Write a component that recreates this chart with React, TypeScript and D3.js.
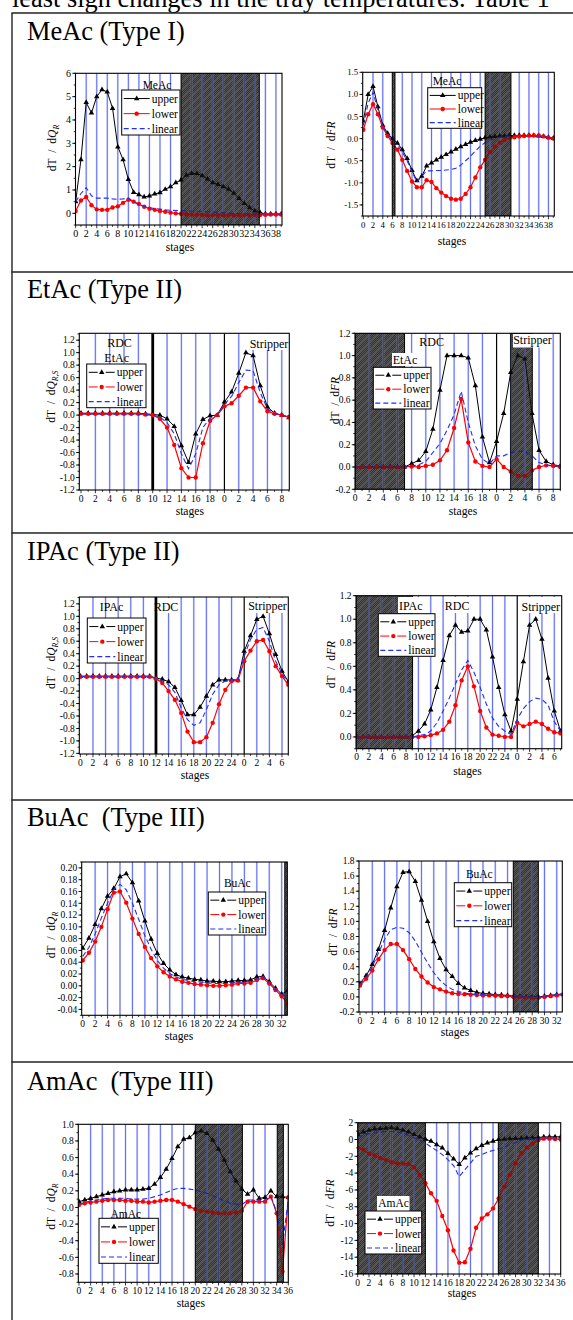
import React from 'react';
import * as d3 from 'd3';

const FONT = '"Liberation Serif", "Times New Roman", Times, serif';

// ---------- tick labels of the stage axes ----------
const meacStageLabels = ['0', '2', '4', '6', '8', '10', '12', '14', '16', '18', '20', '22', '24', '26', '28', '30', '32', '34', '36', '38'];
const etacStageLabels = ['0', '2', '4', '6', '8', '10', '12', '14', '16', '18', '0', '2', '4', '6', '8'];
const ipacStageLabels = ['0', '2', '4', '6', '8', '10', '12', '14', '16', '18', '20', '22', '24', '0', '2', '4', '6'];
const buacStageLabels = ['0', '2', '4', '6', '8', '10', '12', '14', '16', '18', '20', '22', '24', '26', '28', '30', '32'];
const amacStageLabels = ['0', '2', '4', '6', '8', '10', '12', '14', '16', '18', '20', '22', '24', '26', '28', '30', '32', '34', '36'];

// ---------- y ticks ----------
const meacQTicks = [0, 1, 2, 3, 4, 5, 6];
const meacFTicks = [-1.5, -1.0, -0.5, 0.0, 0.5, 1.0, 1.5];
const etacQTicks = [-1.2, -1.0, -0.8, -0.6, -0.4, -0.2, 0.0, 0.2, 0.4, 0.6, 0.8, 1.0, 1.2];
const etacFTicks = [-0.2, 0.0, 0.2, 0.4, 0.6, 0.8, 1.0, 1.2];
const ipacQTicks = [-1.2, -1.0, -0.8, -0.6, -0.4, -0.2, 0.0, 0.2, 0.4, 0.6, 0.8, 1.0, 1.2];
const ipacFTicks = [0.0, 0.2, 0.4, 0.6, 0.8, 1.0, 1.2];
const buacQTicks = [-0.04, -0.02, 0.0, 0.02, 0.04, 0.06, 0.08, 0.1, 0.12, 0.14, 0.16, 0.18, 0.2];
const buacFTicks = [-0.2, 0.0, 0.2, 0.4, 0.6, 0.8, 1.0, 1.2, 1.4, 1.6, 1.8];
const amacQTicks = [-0.8, -0.6, -0.4, -0.2, 0.0, 0.2, 0.4, 0.6, 0.8, 1.0];
const amacFTicks = [-16, -14, -12, -10, -8, -6, -4, -2, 0, 2];

// ---------- MeAc ----------
const meacQUpper = [0.5, 2.3, 4.75, 4.3, 5.0, 5.3, 5.2, 4.5, 2.85, 2.3, 1.45, 0.9, 0.8, 0.7, 0.75, 0.83, 0.89, 1.03, 1.14, 1.31,
  1.43, 1.64, 1.71, 1.71, 1.61, 1.47, 1.31, 1.24, 1.14, 1.04, 0.86, 0.64, 0.43, 0.24, 0.1, 0.03, -0.02, -0.03, -0.03, -0.03];
const meacQLower = [0.1, 0.55, 0.7, 0.35, 0.17, 0.15, 0.15, 0.25, 0.3, 0.45, 0.58, 0.5, 0.4, 0.28, 0.2, 0.15, 0.1, 0.07, 0.03, 0.0,
  -0.02, -0.04, -0.05, -0.06, -0.07, -0.08, -0.08, -0.08, -0.08, -0.08, -0.08, -0.08, -0.08, -0.08, -0.07, -0.07, -0.06, -0.05, -0.05, -0.05];
const meacQLinear = [0.5, 0.85, 1.1, 0.75, 0.65, 0.65, 0.65, 0.62, 0.6, 0.62, 0.65, 0.5, 0.35, 0.3, 0.25, 0.2, 0.18, 0.15, 0.13, 0.12,
  0.12, 0.11, 0.1, 0.09, 0.08, 0.07, 0.05, 0.04, 0.03, 0.01, 0.0, -0.01, -0.02, -0.03, -0.03, -0.03, -0.03, -0.03, -0.03, -0.03];
const meacFUpper = [0.4, 1.0, 1.18, 0.72, 0.3, 0.12, 0.0, -0.1, -0.25, -0.45, -0.72, -0.95, -0.85, -0.62, -0.55, -0.48, -0.42, -0.36, -0.3, -0.24,
  -0.18, -0.13, -0.08, -0.04, -0.01, 0.02, 0.04, 0.05, 0.06, 0.06, 0.07, 0.07, 0.07, 0.07, 0.07, 0.07, 0.06, 0.05, 0.03, 0.01];
const meacFLower = [0.2, 0.55, 0.78, 0.55, 0.25, 0.06, -0.1, -0.25, -0.48, -0.73, -0.97, -1.1, -1.1, -0.94, -0.98, -1.12, -1.22, -1.3, -1.36, -1.38,
  -1.36, -1.25, -1.1, -0.88, -0.65, -0.48, -0.3, -0.18, -0.09, -0.03, 0.01, 0.03, 0.05, 0.06, 0.07, 0.07, 0.07, 0.05, 0.02, 0.0];
const meacFLinear = [0.3, 0.8, 1.05, 0.65, 0.28, 0.1, -0.05, -0.15, -0.3, -0.5, -0.75, -0.98, -0.85, -0.73, -0.73, -0.72, -0.72, -0.71, -0.7, -0.67,
  -0.6, -0.5, -0.4, -0.28, -0.17, -0.09, -0.03, 0.0, 0.03, 0.05, 0.06, 0.07, 0.07, 0.07, 0.07, 0.07, 0.06, 0.05, 0.03, 0.02];

// ---------- EtAc ----------
const etacQUpper = [0.03, 0.03, 0.03, 0.03, 0.03, 0.03, 0.03, 0.03, 0.03, 0.02, 0.01, 0.0, -0.06, -0.18, -0.49,
  -0.76, -0.3, -0.07, -0.01, 0.0, 0.21, 0.37, 0.67, 1.0, 0.95, 0.47, 0.13, 0.03, 0.0, -0.04];
const etacQLower = [0.02, 0.02, 0.02, 0.02, 0.02, 0.02, 0.02, 0.02, 0.02, 0.01, 0.0, -0.06, -0.2, -0.48, -0.85,
  -1.0, -1.0, -0.45, -0.09, 0.0, 0.14, 0.19, 0.31, 0.44, 0.44, 0.22, 0.06, 0.02, 0.0, -0.03];
const etacQLinear = [0.02, 0.02, 0.02, 0.02, 0.02, 0.02, 0.02, 0.02, 0.02, 0.01, 0.0, -0.03, -0.12, -0.3, -0.62,
  -0.86, -0.62, -0.2, -0.05, 0.0, 0.17, 0.3, 0.52, 0.72, 0.71, 0.36, 0.1, 0.02, 0.0, -0.03];
const etacFUpper = [0, 0, 0, 0, 0, 0, 0, 0, 0.03, 0.06, 0.14, 0.34, 0.69, 1.0, 1.0,
  1.0, 0.98, 0.73, 0.27, 0.04, 0.23, 0.48, 0.85, 1.0, 0.97, 0.48, 0.15, 0.05, 0.02, 0.01];
const etacFLower = [0, 0, 0, 0, 0, 0, 0, 0, 0.005, 0.0, 0.01, 0.02, 0.06, 0.15, 0.35,
  0.61, 0.22, 0.05, 0.01, 0.0, 0.07, 0.0, -0.04, -0.08, -0.08, -0.03, 0.0, 0.015, 0.01, 0.0];
const etacFLinear = [0, 0, 0, 0, 0, 0, 0, 0, 0.01, 0.02, 0.05, 0.13, 0.21, 0.33, 0.47,
  0.68, 0.4, 0.19, 0.07, 0.03, 0.1, 0.1, 0.13, 0.14, 0.14, 0.1, 0.04, 0.02, 0.01, 0.01];

// ---------- IPAc ----------
const ipacQUpper = [0.04, 0.04, 0.04, 0.04, 0.04, 0.04, 0.04, 0.04, 0.04, 0.04, 0.04, 0.04, 0.01, -0.01, -0.05, -0.14, -0.35,
  -0.58, -0.58, -0.46, -0.28, -0.1, -0.02, -0.02, -0.02, -0.02, 0.44, 0.69, 0.95, 1.0, 0.72, 0.39, 0.12, -0.05];
const ipacQLower = [0.03, 0.03, 0.03, 0.03, 0.03, 0.03, 0.03, 0.03, 0.03, 0.03, 0.03, 0.03, 0.0, -0.07, -0.2, -0.34, -0.55,
  -0.85, -1.02, -1.02, -0.94, -0.71, -0.41, -0.18, -0.04, -0.03, 0.28, 0.45, 0.6, 0.62, 0.44, 0.2, 0.04, -0.1];
const ipacQLinear = [0.03, 0.03, 0.03, 0.03, 0.03, 0.03, 0.03, 0.03, 0.03, 0.03, 0.03, 0.03, 0.01, -0.03, -0.1, -0.22, -0.47,
  -0.66, -0.75, -0.71, -0.5, -0.25, -0.1, -0.04, -0.02, -0.02, 0.36, 0.63, 0.79, 0.82, 0.6, 0.28, 0.08, -0.07];
const ipacFUpper = [0, 0, 0, 0, 0, 0, 0, 0, 0, 0.01, 0.05, 0.11, 0.23, 0.42, 0.65, 0.86, 0.95,
  0.89, 0.9, 1.0, 1.0, 0.91, 0.68, 0.42, 0.19, 0.05, 0.32, 0.64, 0.95, 1.0, 0.83, 0.5, 0.22, 0.05];
const ipacFLower = [0, 0, 0, 0, 0, 0, 0, 0, 0, 0, 0.0, 0.005, 0.015, 0.03, 0.06, 0.13, 0.27,
  0.48, 0.6, 0.43, 0.22, 0.08, 0.02, 0.01, 0.0, 0.0, 0.12, 0.09, 0.11, 0.13, 0.11, 0.07, 0.04, 0.03];
const ipacFLinear = [0, 0, 0, 0, 0, 0, 0, 0, 0, 0, 0.01, 0.02, 0.05, 0.12, 0.22, 0.33, 0.45,
  0.57, 0.65, 0.55, 0.42, 0.28, 0.16, 0.09, 0.05, 0.02, 0.15, 0.24, 0.3, 0.33, 0.32, 0.27, 0.13, 0.05];

// ---------- BuAc ----------
const buacQUpper = [0.064, 0.081, 0.104, 0.131, 0.152, 0.165, 0.185, 0.19, 0.175, 0.144, 0.11, 0.079, 0.055, 0.038, 0.027, 0.019, 0.015,
  0.013, 0.011, 0.01, 0.008, 0.008, 0.007, 0.007, 0.008, 0.009, 0.009, 0.01, 0.015, 0.016, 0.007, -0.004, -0.014, -0.008];
const buacQLower = [0.043, 0.056, 0.075, 0.1, 0.13, 0.158, 0.16, 0.141, 0.114, 0.088, 0.066, 0.047, 0.033, 0.023, 0.016, 0.011, 0.007,
  0.005, 0.003, 0.002, 0.001, 0.0, 0.0, 0.001, 0.002, 0.004, 0.004, 0.005, 0.01, 0.013, 0.004, -0.007, -0.018, -0.03];
const buacQLinear = [0.05, 0.065, 0.088, 0.115, 0.14, 0.163, 0.172, 0.163, 0.14, 0.113, 0.085, 0.062, 0.043, 0.03, 0.021, 0.015, 0.011,
  0.009, 0.007, 0.006, 0.005, 0.004, 0.004, 0.004, 0.005, 0.006, 0.006, 0.008, 0.012, 0.015, 0.006, -0.006, -0.015, -0.012];
const buacFUpper = [0.18, 0.28, 0.43, 0.63, 0.88, 1.18, 1.46, 1.65, 1.66, 1.53, 1.28, 1.0, 0.73, 0.51, 0.36, 0.27, 0.18,
  0.12, 0.085, 0.06, 0.045, 0.04, 0.03, 0.025, 0.02, 0.01, 0.01, 0.0, 0.0, 0.0, 0.01, 0.02, 0.03, 0.04];
const buacFLower = [0.15, 0.24, 0.35, 0.5, 0.62, 0.7, 0.7, 0.62, 0.5, 0.37, 0.27, 0.19, 0.13, 0.1, 0.07, 0.05, 0.04,
  0.035, 0.03, 0.025, 0.02, 0.02, 0.015, 0.01, 0.01, 0.0, 0.0, -0.01, -0.01, -0.01, 0.0, 0.01, 0.02, 0.03];
const buacFLinear = [0.17, 0.26, 0.4, 0.58, 0.76, 0.89, 0.92, 0.91, 0.85, 0.74, 0.59, 0.45, 0.32, 0.22, 0.15, 0.1, 0.07,
  0.05, 0.04, 0.03, 0.03, 0.02, 0.02, 0.02, 0.015, 0.01, 0.01, 0.0, 0.0, 0.0, 0.01, 0.02, 0.03, 0.04];

// ---------- AmAc ----------
const amacQUpper = [0.07, 0.09, 0.11, 0.13, 0.15, 0.17, 0.19, 0.2, 0.21, 0.21, 0.21, 0.22, 0.23, 0.28, 0.36, 0.46, 0.59, 0.73, 0.82,
  0.84, 0.9, 0.92, 0.89, 0.81, 0.7, 0.57, 0.43, 0.32, 0.22, 0.16, 0.21, 0.11, 0.12, 0.2, 0.13, 0.13, 0.12];
const amacQLower = [0.03, 0.05, 0.06, 0.07, 0.08, 0.09, 0.09, 0.09, 0.08, 0.08, 0.07, 0.07, 0.06, 0.07, 0.08, 0.09, 0.09, 0.07, 0.04,
  0.01, -0.02, -0.04, -0.05, -0.06, -0.07, -0.07, -0.07, -0.06, -0.04, 0.07, 0.07, 0.07, 0.07, 0.13, -0.07, -0.77, 0.12];
const amacQLinear = [0.04, 0.06, 0.08, 0.09, 0.1, 0.11, 0.11, 0.11, 0.11, 0.1, 0.1, 0.1, 0.11, 0.13, 0.15, 0.18, 0.21, 0.23, 0.23,
  0.22, 0.21, 0.19, 0.17, 0.14, 0.11, 0.08, 0.05, 0.04, 0.03, 0.09, 0.09, 0.09, 0.09, 0.13, -0.05, -0.45, 0.1];
const amacFUpper = [0.6, 0.9, 1.1, 1.25, 1.3, 1.35, 1.4, 1.3, 1.1, 0.9, 0.6, 0.3, 0.05, -0.2, -0.6, -1.0, -1.65, -2.3, -2.95,
  -2.2, -1.6, -1.1, -0.7, -0.4, -0.2, 0.0, 0.05, 0.1, 0.12, 0.15, 0.18, 0.2, 0.25, 0.3, 0.32, 0.32, 0.32];
const amacFLower = [-0.95, -1.2, -1.7, -1.9, -2.2, -2.45, -2.7, -2.85, -2.85, -2.9, -3.3, -4.2, -5.2, -6.4, -7.3, -9.1, -10.8, -13.2, -14.65,
  -14.6, -13.0, -10.5, -9.4, -8.9, -8.2, -7.0, -5.6, -4.2, -2.8, -1.6, -0.95, -0.5, -0.1, 0.1, 0.1, 0.05, 0.0];
const amacFLinear = [0.3, 0.5, 0.7, 0.8, 0.9, 0.95, 0.95, 0.9, 0.7, 0.5, 0.2, -0.1, -0.4, -0.9, -1.3, -1.8, -2.4, -3.1, -4.4,
  -3.6, -2.8, -2.0, -1.8, -1.5, -1.3, -1.1, -0.9, -0.6, -0.35, -0.1, 0.05, 0.1, 0.15, 0.2, 0.2, 0.2, 0.2];

type Box = [number, number, number, number];
type Note = { text: string; x: number; y: number; bg?: Box };
type Cfg = {
  id: string;
  box: Box;
  xDomain: [number, number];
  yDomain: [number, number];
  yTicks: number[];
  yMinor: number;
  yDec: number;
  stageLabels: string[];
  fs: number;
  yLabel: 'QR' | 'QRS' | 'FR';
  yLabelPos: [number, number];
  stagesPos: [number, number];
  hatches: [number, number][];
  blue: number[];
  black: [number, number][];
  notes: Note[];
  legend: { box: Box; title?: string; tx?: number; ty?: number; titleBg?: Box; gaps: boolean };
  upper: number[];
  lower: number[];
  linear: number[];
};

const charts: Cfg[] = [
  {
    id: 'meacQ', box: [75.5, 73.3, 282, 225], xDomain: [-0.03, 39.15], yDomain: [-0.5, 6],
    yTicks: meacQTicks, yMinor: 0.5, yDec: 0, stageLabels: meacStageLabels, fs: 10,
    yLabel: 'QR', yLabelPos: [55.5, 148], stagesPos: [180, 251],
    hatches: [[20, 34.84]],
    blue: [2, 4, 6, 8, 10, 12, 14, 16, 18, 22, 24, 26, 28, 30, 32, 34, 36, 38], black: [], notes: [],
    legend: { box: [121.7, 90, 180, 135], title: 'MeAc', tx: 157, ty: 88.5, gaps: false },
    upper: meacQUpper, lower: meacQLower, linear: meacQLinear,
  },
  {
    id: 'meacF', box: [362.7, 72.3, 554.3, 216], xDomain: [-0.12, 39.2], yDomain: [-1.75, 1.5],
    yTicks: meacFTicks, yMinor: 0.25, yDec: 1, stageLabels: meacStageLabels, fs: 8.8,
    yLabel: 'FR', yLabelPos: [335.2, 145], stagesPos: [452, 245],
    hatches: [[5.95, 6.5], [25, 30.3]],
    blue: [2, 4, 8, 10, 12, 14, 16, 18, 20, 22, 24, 26, 28, 32, 34, 36, 38], black: [], notes: [],
    legend: { box: [427.7, 87.7, 481.7, 128.3], title: 'MeAc', tx: 447, ty: 85.3, gaps: false },
    upper: meacFUpper, lower: meacFLower, linear: meacFLinear,
  },
  {
    id: 'etacQ', box: [79.3, 333.3, 289.3, 490], xDomain: [-0.24, 29.05], yDomain: [-1.2, 1.31],
    yTicks: etacQTicks, yMinor: 0.1, yDec: 1, stageLabels: etacStageLabels, fs: 9.5,
    yLabel: 'QRS', yLabelPos: [55.2, 396.7], stagesPos: [189.8, 515],
    hatches: [],
    blue: [2, 4, 6, 8, 12, 14, 16, 18, 22, 24, 26, 28], black: [[10, 2.8], [20, 1.2]],
    notes: [
      { text: 'RDC', x: 119.5, y: 347 },
      { text: 'EtAc', x: 116.7, y: 362 },
      { text: 'Stripper', x: 269, y: 348, bg: [249, 334, 289, 350] },
    ],
    legend: { box: [86.7, 364, 146, 407.7], gaps: true },
    upper: etacQUpper, lower: etacQLower, linear: etacQLinear,
  },
  {
    id: 'etacF', box: [355, 333.3, 560.3, 489.3], xDomain: [0, 29], yDomain: [-0.2, 1.2],
    yTicks: etacFTicks, yMinor: 0.1, yDec: 1, stageLabels: etacStageLabels, fs: 9.5,
    yLabel: 'FR', yLabelPos: [338.5, 400.5], stagesPos: [463, 515],
    hatches: [[0, 7], [22, 25.04]],
    blue: [2, 4, 6, 8, 10, 12, 14, 16, 18, 22, 24, 26, 28], black: [[20, 1.2]],
    notes: [
      { text: 'RDC', x: 431.7, y: 346 },
      { text: 'EtAc', x: 405, y: 363.5, bg: [392, 353, 418, 366] },
      { text: 'Stripper', x: 532.5, y: 344, bg: [513, 334, 552, 347.5] },
    ],
    legend: { box: [373.3, 367.3, 431, 409], gaps: true },
    upper: etacFUpper, lower: etacFLower, linear: etacFLinear,
  },
  {
    id: 'ipacQ', box: [79.3, 597, 288.3, 754], xDomain: [-0.17, 33.0], yDomain: [-1.21, 1.31],
    yTicks: ipacQTicks, yMinor: 0.1, yDec: 1, stageLabels: ipacStageLabels, fs: 9.5,
    yLabel: 'QRS', yLabelPos: [55.2, 663], stagesPos: [195, 779],
    hatches: [],
    blue: [2, 4, 6, 8, 10, 14, 16, 18, 20, 22, 24, 28, 30, 32], black: [[12, 2.8], [26, 1.2]],
    notes: [
      { text: 'IPAc', x: 111.5, y: 611 },
      { text: 'RDC', x: 166, y: 611, bg: [157.8, 598, 174.5, 613] },
      { text: 'Stripper', x: 267.5, y: 610, bg: [247, 598, 288, 613] },
    ],
    legend: { box: [87.3, 618, 146, 663], gaps: true },
    upper: ipacQUpper, lower: ipacQLower, linear: ipacQLinear,
  },
  {
    id: 'ipacF', box: [356, 595.7, 561.7, 748.7], xDomain: [-0.1, 33.2], yDomain: [-0.1, 1.2],
    yTicks: ipacFTicks, yMinor: 0.1, yDec: 1, stageLabels: ipacStageLabels, fs: 9.5,
    yLabel: 'FR', yLabelPos: [334.8, 664.7], stagesPos: [467.5, 774.7],
    hatches: [[-0.1, 9.06]],
    blue: [2, 4, 6, 8, 10, 12, 14, 16, 18, 20, 22, 24, 28, 30, 32], black: [[26, 1.2]],
    notes: [
      { text: 'IPAc', x: 410.8, y: 609.7, bg: [398, 597, 423, 613] },
      { text: 'RDC', x: 457.2, y: 609.7, bg: [445, 597, 469.5, 613] },
      { text: 'Stripper', x: 540.8, y: 610.5, bg: [521, 597, 561, 613] },
    ],
    legend: { box: [378.3, 613.7, 435, 656.3], gaps: true },
    upper: ipacFUpper, lower: ipacFLower, linear: ipacFLinear,
  },
  {
    id: 'buacQ', box: [81.7, 862, 287.3, 1015.3], xDomain: [-0.16, 32.9], yDomain: [-0.05, 0.21],
    yTicks: buacQTicks, yMinor: 0.01, yDec: 2, stageLabels: buacStageLabels, fs: 9.5,
    yLabel: 'QR', yLabelPos: [55.2, 935], stagesPos: [179, 1040],
    hatches: [[32.5, 33.2]],
    blue: [2, 4, 6, 8, 10, 12, 14, 16, 18, 20, 22, 24, 26, 28, 30, 32], black: [], notes: [],
    legend: { box: [208.3, 892, 265.7, 935], title: 'BuAc', tx: 237.3, ty: 887, gaps: true },
    upper: buacQUpper, lower: buacQLower, linear: buacQLinear,
  },
  {
    id: 'buacF', box: [359, 861, 562.3, 1012], xDomain: [-0.16, 32.9], yDomain: [-0.2, 1.8],
    yTicks: buacFTicks, yMinor: 0.1, yDec: 1, stageLabels: buacStageLabels, fs: 9.5,
    yLabel: 'FR', yLabelPos: [336.8, 932], stagesPos: [455, 1036],
    hatches: [[24.93, 29.0]],
    blue: [2, 4, 6, 8, 10, 12, 14, 16, 18, 20, 22, 24, 26, 28, 30, 32], black: [], notes: [],
    legend: { box: [454.3, 882.7, 511.7, 926.7], title: 'BuAc', tx: 479.3, ty: 878.3, gaps: true },
    upper: buacFUpper, lower: buacFLower, linear: buacFLinear,
  },
  {
    id: 'amacQ', box: [78.3, 1124.3, 288.3, 1282.3], xDomain: [-0.12, 36], yDomain: [-0.9, 1.0],
    yTicks: amacQTicks, yMinor: 0.1, yDec: 1, stageLabels: amacStageLabels, fs: 9.5,
    yLabel: 'QR', yLabelPos: [55.2, 1206.7], stagesPos: [190.8, 1307.3],
    hatches: [[20, 28.1], [34.1, 35.15]],
    blue: [2, 4, 6, 8, 10, 12, 14, 16, 18, 22, 24, 26, 30, 32], black: [], notes: [],
    legend: { box: [99, 1218.3, 158.3, 1263.3], title: 'AmAc', tx: 125.8, ty: 1218, gaps: true },
    upper: amacQUpper, lower: amacQLower, linear: amacQLinear,
  },
  {
    id: 'amacF', box: [357.7, 1122.7, 560.7, 1274], xDomain: [0, 36], yDomain: [-16, 2],
    yTicks: amacFTicks, yMinor: 1, yDec: 0, stageLabels: amacStageLabels, fs: 9.5,
    yLabel: 'FR', yLabelPos: [333.5, 1203], stagesPos: [462, 1296.7],
    hatches: [[0, 12], [24.94, 32.03]],
    blue: [2, 4, 6, 8, 10, 14, 16, 18, 20, 22, 24, 26, 28, 30, 34], black: [], notes: [],
    legend: { box: [365, 1211, 421.7, 1254], title: 'AmAc', tx: 393.5, ty: 1207, titleBg: [377, 1196, 409.5, 1211], gaps: true },
    upper: amacFUpper, lower: amacFLower, linear: amacFLinear,
  },
];

const rowLines = [13, 272, 533, 800, 1062];
const rowTitles = ['MeAc (Type I)', 'EtAc (Type II)', 'IPAc (Type II)', 'BuAc  (Type III)', 'AmAc  (Type III)'];
const rowTitleY = [40, 298, 560, 826, 1090];

const RED = '#ff0000';
const BLUE = '#1f2fff';

function fmt(v: number, dec: number) {
  const s = v.toFixed(dec);
  return /^-0(\.0+)?$/.test(s) ? s.slice(1) : s;
}

function YLabel({ kind, x, y }: { kind: string; x: number; y: number }) {
  const fs = 11.5;
  return (
    <text transform={`translate(${x},${y}) rotate(-90)`} textAnchor="middle" fontSize={fs} style={{ wordSpacing: '3px' }}>
      dT / d
      {kind === 'FR' ? (
        <tspan fontStyle="italic">FR</tspan>
      ) : (
        <>
          <tspan fontStyle="italic">Q</tspan>
          <tspan fontStyle="italic" fontSize={fs * 0.68} dy={3}>{kind === 'QRS' ? 'R,S' : 'R'}</tspan>
        </>
      )}
    </text>
  );
}

const triPath = d3.symbol().type(d3.symbolTriangle).size(13)() as string;
const circPath = d3.symbol().type(d3.symbolCircle).size(15)() as string;

function Chart({ c }: { c: Cfg }) {
  const [x0, y0, x1, y1] = c.box;
  const x = d3.scaleLinear().domain(c.xDomain).range([x0, x1]);
  const y = d3.scaleLinear().domain(c.yDomain).range([y1, y0]);
  const line = d3.line<number>().x((_, i) => x(i)).y((d) => y(d));
  const clip = `clip-${c.id}`;
  const minorY = d3
    .range(Math.ceil(c.yDomain[0] / c.yMinor - 1e-6), Math.floor(c.yDomain[1] / c.yMinor + 1e-6) + 1)
    .map((k) => k * c.yMinor);
  const minorX = d3.range(Math.ceil(c.xDomain[0]), Math.floor(c.xDomain[1] + 1e-6) + 1);
  const lg = c.legend;
  const [lx0, ly0, lx1, ly1] = lg.box;
  const lh = ly1 - ly0;
  const rows = [
    { name: 'upper', color: '#000', mark: triPath, dash: undefined as string | undefined },
    { name: 'lower', color: RED, mark: circPath, dash: undefined },
    { name: 'linear', color: BLUE, mark: null as string | null, dash: '5,3' },
  ];

  return (
    <g>
      <defs>
        <clipPath id={clip}>
          <rect x={x0} y={y0} width={x1 - x0} height={y1 - y0} />
        </clipPath>
      </defs>
      <g clipPath={`url(#${clip})`}>
        {c.hatches.map(([a, b], k) => (
          <g key={`hb${k}`}>
            <rect x={x(a)} y={y0} width={x(b) - x(a)} height={y1 - y0} fill="url(#checker)" />
            <rect x={x(a)} y={y0} width={x(b) - x(a)} height={y1 - y0} fill="url(#diag)" />
          </g>
        ))}
        {c.blue.map((i) => (
          <g key={i}>
            <line x1={x(i)} x2={x(i)} y1={y0} y2={y1} stroke="#c4caff" strokeWidth={2} opacity={0.7} />
            <line x1={x(i)} x2={x(i)} y1={y0} y2={y1} stroke="#3040ee" strokeWidth={0.7} />
          </g>
        ))}
        {c.black.map(([i, w]) => (
          <line key={i} x1={x(i)} x2={x(i)} y1={y0} y2={y1} stroke="#000" strokeWidth={w} />
        ))}
        <path d={line(c.upper) || ''} fill="none" stroke="#000" strokeWidth={1} />
        {c.upper.map((v, i) => (
          <path key={`u${i}`} d={triPath} transform={`translate(${x(i)},${y(v)})`} fill="#000" />
        ))}
        <path d={line(c.lower) || ''} fill="none" stroke={RED} strokeWidth={1.2} />
        {c.lower.map((v, i) => (
          <path key={`l${i}`} d={circPath} transform={`translate(${x(i)},${y(v)})`} fill={RED} />
        ))}
        <path d={line(c.linear) || ''} fill="none" stroke={BLUE} strokeWidth={1.1} strokeDasharray="5,3" />
        {c.hatches.map(([a, b], k) => (
          <g key={`h${k}`}>
            <rect x={x(a)} y={y0} width={x(b) - x(a)} height={y1 - y0} fill="#1e1e1e" opacity={0.5} />
            <rect x={x(a)} y={y0} width={x(b) - x(a)} height={y1 - y0} fill="none" stroke="#000" strokeWidth={1} />
          </g>
        ))}
      </g>

      {c.notes.map((n, k) => (
        <g key={`n${k}`}>
          {n.bg && <rect x={n.bg[0]} y={n.bg[1]} width={n.bg[2] - n.bg[0]} height={n.bg[3] - n.bg[1]} fill="#fff" />}
          <text x={n.x} y={n.y} textAnchor="middle" fontSize={12}>{n.text}</text>
        </g>
      ))}

      {lg.titleBg && (
        <rect x={lg.titleBg[0]} y={lg.titleBg[1]} width={lg.titleBg[2] - lg.titleBg[0]} height={lg.titleBg[3] - lg.titleBg[1]} fill="#fff" />
      )}
      {lg.title && (
        <text x={lg.tx} y={lg.ty} textAnchor="middle" fontSize={11.5}>{lg.title}</text>
      )}
      <rect x={lx0} y={ly0} width={lx1 - lx0} height={lh} fill="#fff" stroke="#000" strokeWidth={1} />
      {rows.map((r, k) => {
        const ry = ly0 + lh * (0.19 + 0.335 * k);
        const segs = lg.gaps && r.mark
          ? [[lx0 + 2, lx0 + 11], [lx0 + 19, lx0 + 28]]
          : [[lx0 + 2, lx0 + 28]];
        return (
          <g key={r.name}>
            {segs.map(([a, b], j) => (
              <line key={j} x1={a} x2={b} y1={ry} y2={ry} stroke={r.color} strokeWidth={r.dash ? 1.2 : 1} strokeDasharray={r.dash} />
            ))}
            {r.mark && <path d={r.mark} transform={`translate(${lx0 + 15},${ry})`} fill={r.color} />}
            <text x={lx0 + 30} y={ry + 4} fontSize={11.5}>{r.name}</text>
          </g>
        );
      })}

      <rect x={x0} y={y0} width={x1 - x0} height={y1 - y0} fill="none" stroke="#000" strokeWidth={1.1} />

      {minorY.map((v) => (
        <line key={`my${v}`} x1={x0 - 1.8} x2={x0} y1={y(v)} y2={y(v)} stroke="#000" strokeWidth={0.8} />
      ))}
      {c.yTicks.map((v) => (
        <g key={`y${v}`}>
          <line x1={x0 - 3.2} x2={x0} y1={y(v)} y2={y(v)} stroke="#000" strokeWidth={0.9} />
          <text x={x0 - 4.5} y={y(v) + c.fs * 0.34} textAnchor="end" fontSize={c.fs}>{fmt(v, c.yDec)}</text>
        </g>
      ))}
      {minorX.map((i) => (
        <line key={`mx${i}`} x1={x(i)} x2={x(i)} y1={y1} y2={y1 + (i % 2 === 0 ? 3.2 : 1.8)} stroke="#000" strokeWidth={0.8} />
      ))}
      {c.stageLabels.map((lab, k) => (
        <text key={`x${k}`} x={x(2 * k)} y={y1 + 11.5} textAnchor="middle" fontSize={c.fs}>{lab}</text>
      ))}

      <YLabel kind={c.yLabel} x={c.yLabelPos[0]} y={c.yLabelPos[1]} />
      <text x={c.stagesPos[0]} y={c.stagesPos[1]} textAnchor="middle" fontSize={11.6}>stages</text>
    </g>
  );
}

export default function App() {
  return (
    <svg
      width={573}
      height={1320}
      viewBox="0 0 573 1320"
      style={{ position: 'absolute', left: 0, top: 0, background: '#fff' }}
      fontFamily={FONT}
    >
      <defs>
        <pattern id="checker" width={2} height={2} patternUnits="userSpaceOnUse">
          <rect width={2} height={2} fill="#474747" />
          <rect x={0} y={0} width={1} height={1} fill="#8c8c8c" />
          <rect x={1} y={1} width={1} height={1} fill="#8c8c8c" />
        </pattern>
        <pattern id="diag" width={8} height={8} patternUnits="userSpaceOnUse">
          <path d="M0,8 L8,0 M-2,2 L2,-2 M6,10 L10,6" stroke="#a8a8a8" strokeWidth={1.4} opacity={0.6} />
        </pattern>
      </defs>
      <rect x={0} y={0} width={573} height={1320} fill="#fff" />

      <text x={12} y={7} fontSize={26.4} style={{ whiteSpace: 'pre' }}>
        least sign changes in the tray temperatures. Table 1
      </text>

      {rowLines.map((ly) => (
        <line key={ly} x1={11.5} x2={573} y1={ly} y2={ly} stroke="#222" strokeWidth={1.4} />
      ))}
      <line x1={12} x2={12} y1={13} y2={1320} stroke="#222" strokeWidth={1.4} />

      {rowTitles.map((t, k) => (
        <text key={t} x={27} y={rowTitleY[k]} fontSize={26.4} style={{ whiteSpace: 'pre' }}>{t}</text>
      ))}

      {charts.map((c) => (
        <Chart key={c.id} c={c} />
      ))}
    </svg>
  );
}
